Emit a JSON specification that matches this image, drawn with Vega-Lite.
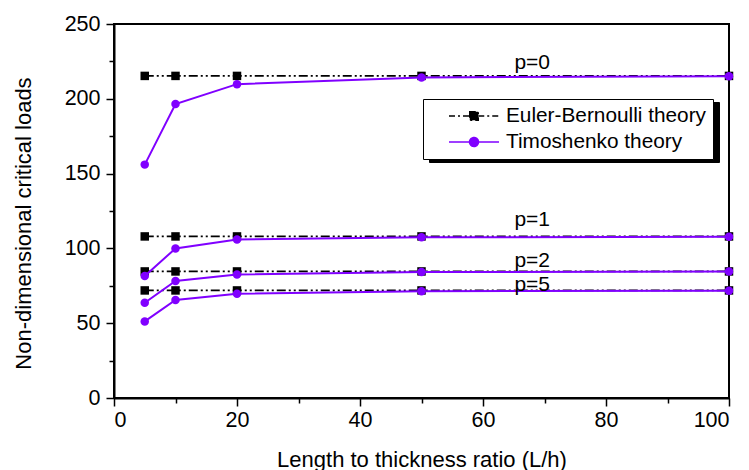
{
  "$schema": "https://vega.github.io/schema/vega-lite/v6.json",
  "autosize": "none",
  "width": 615,
  "height": 374,
  "padding": {"left": 114, "top": 24, "right": 20, "bottom": 72},
  "background": "white",
  "config": {
    "view": {"stroke": "black", "strokeWidth": 2},
    "font": "Liberation Sans",
    "axis": {
      "labelFont": "Liberation Sans", "labelFontSize": 21.5, "labelColor": "black",
      "titleFont": "Liberation Sans", "titleFontSize": 22, "titleFontWeight": "normal", "titleColor": "black",
      "domainColor": "black", "domainWidth": 2, "tickColor": "black", "tickWidth": 1.5,
      "grid": false
    }
  },
  "datasets": {
    "eb": [
      {"L": 5, "p": "p=0", "series": "Euler-Bernoulli theory", "load": 215.3},
      {"L": 10, "p": "p=0", "series": "Euler-Bernoulli theory", "load": 215.3},
      {"L": 20, "p": "p=0", "series": "Euler-Bernoulli theory", "load": 215.3},
      {"L": 50, "p": "p=0", "series": "Euler-Bernoulli theory", "load": 215.3},
      {"L": 100, "p": "p=0", "series": "Euler-Bernoulli theory", "load": 215.3},
      {"L": 5, "p": "p=1", "series": "Euler-Bernoulli theory", "load": 108.0},
      {"L": 10, "p": "p=1", "series": "Euler-Bernoulli theory", "load": 108.0},
      {"L": 20, "p": "p=1", "series": "Euler-Bernoulli theory", "load": 108.0},
      {"L": 50, "p": "p=1", "series": "Euler-Bernoulli theory", "load": 108.0},
      {"L": 100, "p": "p=1", "series": "Euler-Bernoulli theory", "load": 108.0},
      {"L": 5, "p": "p=2", "series": "Euler-Bernoulli theory", "load": 84.6},
      {"L": 10, "p": "p=2", "series": "Euler-Bernoulli theory", "load": 84.6},
      {"L": 20, "p": "p=2", "series": "Euler-Bernoulli theory", "load": 84.6},
      {"L": 50, "p": "p=2", "series": "Euler-Bernoulli theory", "load": 84.6},
      {"L": 100, "p": "p=2", "series": "Euler-Bernoulli theory", "load": 84.6},
      {"L": 5, "p": "p=5", "series": "Euler-Bernoulli theory", "load": 71.9},
      {"L": 10, "p": "p=5", "series": "Euler-Bernoulli theory", "load": 71.9},
      {"L": 20, "p": "p=5", "series": "Euler-Bernoulli theory", "load": 71.9},
      {"L": 50, "p": "p=5", "series": "Euler-Bernoulli theory", "load": 71.9},
      {"L": 100, "p": "p=5", "series": "Euler-Bernoulli theory", "load": 71.9}
    ],
    "timo": [
      {"L": 5, "p": "p=0", "series": "Timoshenko theory", "load": 156.0},
      {"L": 10, "p": "p=0", "series": "Timoshenko theory", "load": 196.5},
      {"L": 20, "p": "p=0", "series": "Timoshenko theory", "load": 209.8},
      {"L": 50, "p": "p=0", "series": "Timoshenko theory", "load": 214.3},
      {"L": 100, "p": "p=0", "series": "Timoshenko theory", "load": 215.1},
      {"L": 5, "p": "p=1", "series": "Timoshenko theory", "load": 81.6},
      {"L": 10, "p": "p=1", "series": "Timoshenko theory", "load": 100.0},
      {"L": 20, "p": "p=1", "series": "Timoshenko theory", "load": 106.0},
      {"L": 50, "p": "p=1", "series": "Timoshenko theory", "load": 107.4},
      {"L": 100, "p": "p=1", "series": "Timoshenko theory", "load": 107.8},
      {"L": 5, "p": "p=2", "series": "Timoshenko theory", "load": 63.7},
      {"L": 10, "p": "p=2", "series": "Timoshenko theory", "load": 78.2},
      {"L": 20, "p": "p=2", "series": "Timoshenko theory", "load": 82.6},
      {"L": 50, "p": "p=2", "series": "Timoshenko theory", "load": 84.2},
      {"L": 100, "p": "p=2", "series": "Timoshenko theory", "load": 84.5},
      {"L": 5, "p": "p=5", "series": "Timoshenko theory", "load": 51.2},
      {"L": 10, "p": "p=5", "series": "Timoshenko theory", "load": 65.5},
      {"L": 20, "p": "p=5", "series": "Timoshenko theory", "load": 69.7},
      {"L": 50, "p": "p=5", "series": "Timoshenko theory", "load": 71.4},
      {"L": 100, "p": "p=5", "series": "Timoshenko theory", "load": 71.7}
    ],
    "labels": [
      {"L": 68, "load": 224.1, "text": "p=0"},
      {"L": 68, "load": 118.7, "text": "p=1"},
      {"L": 68, "load": 91.3, "text": "p=2"},
      {"L": 68, "load": 75.7, "text": "p=5"}
    ],
    "legendShadow": [
      {"entry": "Euler-Bernoulli theory"},
      {"entry": "Timoshenko theory"}
    ]
  },
  "layer": [
    {
      "layer": [
        {
          "data": {"name": "legendShadow"},
          "mark": {"type": "point", "opacity": 0},
          "encoding": {
            "shape": {
              "field": "entry", "type": "nominal",
              "legend": {
                "title": null,
                "orient": "none", "legendX": 315, "legendY": 78,
                "fillColor": "black", "strokeColor": "black",
                "padding": 7,
                "symbolType": "square",
                "symbolSize": 62500, "clipHeight": 20, "rowPadding": 5,
                "symbolOffset": 18, "labelOffset": 6,
                "symbolFillColor": "black", "symbolStrokeColor": "black",
                "labelExpr": "''",
                "labelFont": "Liberation Sans", "labelFontSize": 20.8, "labelColor": "black",
                "zindex": 1
              }
            }
          }
        },
        {
          "data": {"name": "eb"},
          "mark": {"type": "line", "strokeWidth": 1.8, "strokeDash": [9, 3, 2, 3, 2, 3]},
          "encoding": {
            "x": {"field": "L", "type": "quantitative"},
            "y": {"field": "load", "type": "quantitative"},
            "detail": {"field": "p", "type": "nominal"},
            "color": {"field": "series", "type": "nominal"}
          }
        },
        {
          "data": {"name": "eb"},
          "mark": {"type": "point", "shape": "square", "filled": true, "size": 72, "opacity": 1},
          "encoding": {
            "x": {"field": "L", "type": "quantitative"},
            "y": {"field": "load", "type": "quantitative"},
            "color": {"field": "series", "type": "nominal"}
          }
        },
        {
          "data": {"name": "timo"},
          "mark": {"type": "line", "strokeWidth": 2},
          "encoding": {
            "x": {"field": "L", "type": "quantitative"},
            "y": {"field": "load", "type": "quantitative"},
            "detail": {"field": "p", "type": "nominal"},
            "color": {"field": "series", "type": "nominal"}
          }
        },
        {
          "data": {"name": "timo"},
          "mark": {"type": "point", "shape": "circle", "filled": true, "size": 72, "opacity": 1},
          "encoding": {
            "x": {
              "field": "L", "type": "quantitative",
              "scale": {"domain": [0, 100], "nice": false, "zero": false},
              "axis": {
                "title": "Length to thickness ratio (L/h)",
                "values": [0, 20, 40, 60, 80, 100],
                "tickSize": 8, "labelPadding": 3,
                "titleX": 307.5, "titleY": 68, "titleBaseline": "alphabetic", "titleAnchor": "middle", "titleAlign": "center"
              }
            },
            "y": {
              "field": "load", "type": "quantitative",
              "scale": {"domain": [0, 250], "nice": false, "zero": false},
              "axis": {
                "title": "Non-dimensional critical loads",
                "values": [0, 50, 100, 150, 200, 250],
                "tickSize": 8, "labelPadding": 6,
                "titleX": -91, "titleY": 199, "titleAngle": -90, "titleBaseline": "middle", "titleAlign": "center"
              }
            },
            "color": {
              "field": "series", "type": "nominal",
              "scale": {"domain": ["Euler-Bernoulli theory", "Timoshenko theory"], "range": ["black", "#8000ff"]},
              "legend": {
                "title": null,
                "orient": "none", "legendX": 309, "legendY": 75,
                "fillColor": "white", "strokeColor": "black",
                "padding": 7,
                "symbolSize": 2500, "clipHeight": 20, "rowPadding": 5,
                "symbolOffset": 18, "labelOffset": 6,
                "symbolType": {"expr": "datum.value === 'Euler-Bernoulli theory' ? 'M-1,0H-0.17M0.17,0H1M-0.17,-0.17H0.17V0.17H-0.17Z' : 'M-1,0H1M0.18,0A0.18,0.18,0,1,1,-0.18,0A0.18,0.18,0,1,1,0.18,0Z'"},
                "symbolDash": {"expr": "datum.value === 'Euler-Bernoulli theory' ? [6,3,2,3] : [1,0]"},
                "symbolStrokeWidth": 1.5,
                "labelFont": "Liberation Sans", "labelFontSize": 20.8, "labelColor": "black", "labelLimit": 400,
                "zindex": 2,
                "encode": {
                  "symbols": {
                    "fill": {"condition": {"test": "datum.value === 'Euler-Bernoulli theory'", "value": "black"}, "value": "#8000ff"},
                    "stroke": {"condition": {"test": "datum.value === 'Euler-Bernoulli theory'", "value": "black"}, "value": "#8000ff"},
                    "opacity": {"value": 1}
                  }
                }
              }
            }
          }
        }
      ]
    },
    {
      "data": {"name": "labels"},
      "mark": {"type": "text", "font": "Liberation Sans", "fontSize": 21, "color": "black", "baseline": "middle", "align": "center"},
      "encoding": {
        "x": {
          "field": "L", "type": "quantitative",
          "axis": {"values": [10, 30, 50, 70, 90], "labels": false, "domain": false, "title": null, "tickSize": 5, "orient": "bottom"}
        },
        "y": {
          "field": "load", "type": "quantitative",
          "axis": {"values": [25, 75, 125, 175, 225], "labels": false, "domain": false, "title": null, "tickSize": 5, "orient": "left"}
        },
        "text": {"field": "text"}
      }
    }
  ],
  "resolve": {"axis": {"x": "independent", "y": "independent"}}
}
